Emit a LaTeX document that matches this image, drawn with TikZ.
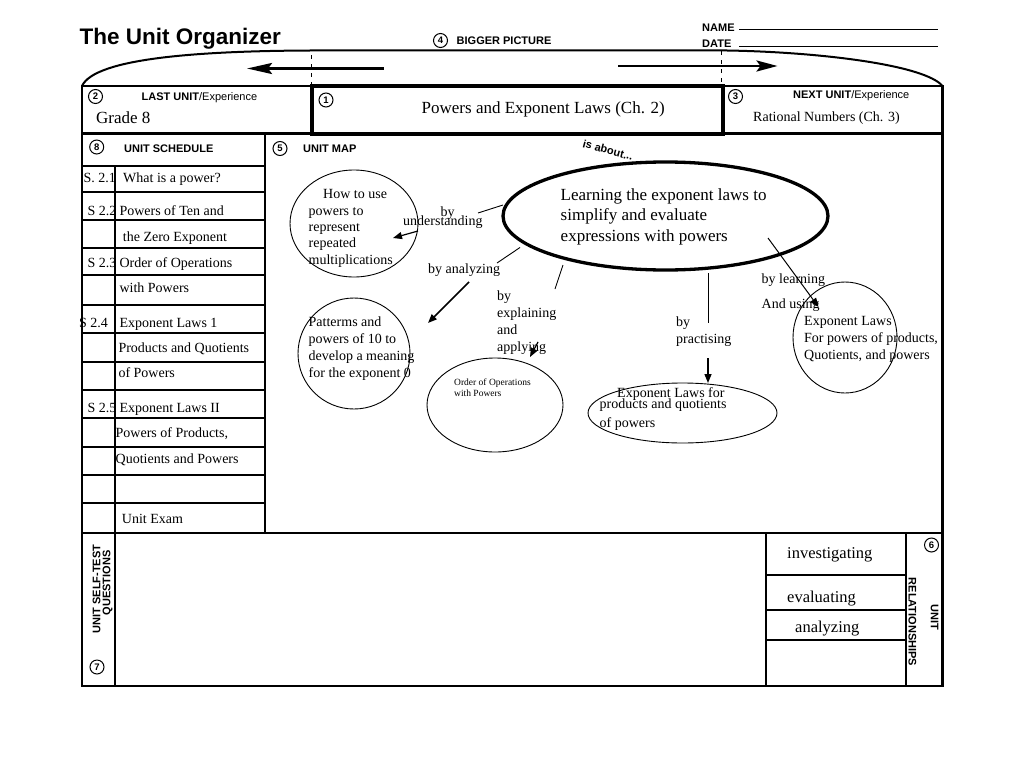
\documentclass[tikz,border=0pt]{standalone}
\usepackage{fontspec}
\setmainfont{Liberation Serif}
\setsansfont{Liberation Sans}
\usetikzlibrary{arrows.meta,shapes.geometric}
\newcommand{\uofs}[1]{\fontsize{#1}{#1}\selectfont}
\begin{document}
\begin{tikzpicture}[x=1pt,y=-1pt,
  num/.style={circle,draw,line width=1pt,inner sep=0pt,minimum size=14pt,font=\sffamily\bfseries\uofs{9.5}},
  hdr/.style={font=\sffamily\bfseries\uofs{11},inner sep=0pt,anchor=base west},
  tl/.style={font=\uofs{14},inner sep=0pt,anchor=base west},
  bubble/.style={ellipse,draw,line width=0.9pt,inner sep=0pt},
  frame/.style={line width=2.3pt},
  rowline/.style={line width=1.1pt},
  link/.style={line width=0.9pt},
  arr/.style={-{Triangle[length=9pt,width=7pt]},line width=1.2pt},
]
\useasboundingbox[fill=white] (0,0) rectangle (1024,768);

% ---------- header ----------
\node[font=\sffamily\bfseries\uofs{22.5},inner sep=0pt,anchor=base west] (title) at (79.5,45) {The Unit Organizer};
\node[num] (n4) at (440.5,40.5) {4};
\node[hdr] (bigger) at (456.5,45) {BIGGER PICTURE};
\node[hdr] (name) at (702,31.5) {NAME};
\node[hdr] (date) at (702,47.5) {DATE};
\coordinate (nameA) at (739,30);  \coordinate (nameB) at (937.5,30);
\coordinate (dateA) at (739,46.5); \coordinate (dateB) at (937.5,46.5);
\draw[line width=1pt] (nameA) -- (nameB);
\draw[line width=1pt] (dateA) -- (dateB);

% top arc
\draw[line width=2pt] (82,86) .. controls (95,58) and (200,51) .. (310,50.5) -- (727,50.5) .. controls (820,52) and (925,65) .. (942.5,86);
\draw[line width=1pt,dash pattern=on 4pt off 5pt] (311.5,55) -- (311.5,84);
\draw[line width=1pt,dash pattern=on 4pt off 5pt] (721,51) -- (721,84);
\coordinate (la1) at (383.5,68.5); \coordinate (la2) at (247,68.5);
\coordinate (ra1) at (618,66); \coordinate (ra2) at (777.5,66);
\draw[line width=2.8pt,-{Stealth[length=25pt,width=11pt,inset=4pt]}] (la1) -- (la2);
\draw[line width=2.8pt,-{Stealth[length=21pt,width=11pt,inset=4pt]}] (ra1) -- (ra2);

% ---------- frame ----------
\draw[frame] (312,86) -- (82,86) -- (82,686) -- (942.5,686) -- (942.5,86) -- (722,86);
\draw[frame] (82,133.5) -- (942.5,133.5);
\draw[frame] (265,133.5) -- (265,533);
\draw[frame] (82,533) -- (942.5,533);
\draw[line width=4pt] (311.5,85.5) rectangle (722.5,134);

% top row
\node[num] (n2) at (95.5,96.5) {2};
\node[inner sep=0pt,anchor=base west] (last) at (141.5,100) {\sffamily\uofs{11}\textbf{LAST UNIT}/Experience};
\node[font=\uofs{17},inner sep=0pt,anchor=base west] (grade) at (96,123.3) {Grade 8};
\node[num] (n1) at (326,100) {1};
\node[font=\uofs{17},inner sep=0pt,anchor=base west] (unit) at (421.5,113) {Powers and Exponent Laws (Ch. 2)};
\node[num] (n3) at (735.5,96.5) {3};
\node[inner sep=0pt,anchor=base west] (next) at (793,98) {\sffamily\uofs{11}\textbf{NEXT UNIT}/Experience};
\node[font=\uofs{14},inner sep=0pt,anchor=base west] (rational) at (753,121.7) {Rational Numbers (Ch. 3)};

% ---------- unit schedule ----------
\node[num] (n8) at (96.7,147) {8};
\node[hdr] (sched) at (124,152) {UNIT SCHEDULE};
\foreach \yy in {166,192,220,248,275,305,333,362,390,418,447,475,503}
  \draw[rowline] (82,\yy) -- (265,\yy);
\draw[line width=1.5pt] (115,166) -- (115,686);
\node[tl] (s1) at (83.5,182) {S. 2.1};
\node[tl] (t1) at (123,182) {What is a power?};
\node[tl] (s2) at (87.5,215) {S 2.2};
\node[tl] (t2) at (119.3,215) {Powers of Ten and};
\node[tl] (t2b) at (122.7,241) {the Zero Exponent};
\node[tl] (s3) at (87.5,267) {S 2.3};
\node[tl] (t3) at (119.3,267) {Order of Operations};
\node[tl] (t3b) at (119.3,292) {with Powers};
\node[tl] (s4) at (79,327) {S 2.4};
\node[tl] (t4) at (119.3,327) {Exponent Laws 1};
\node[tl] (t4b) at (118.3,352) {Products and Quotients};
\node[tl] (t4c) at (118.3,377) {of Powers};
\node[tl] (s5) at (87.5,412) {S 2.5};
\node[tl] (t5) at (119.3,412) {Exponent Laws II};
\node[tl] (t5b) at (115.5,437) {Powers of Products,};
\node[tl] (t5c) at (115.5,463) {Quotients and Powers};
\node[tl] (t6) at (121.7,523) {Unit Exam};

% ---------- unit map ----------
\node[num] (n5) at (280,148.5) {5};
\node[hdr] (umap) at (303,152.6) {UNIT MAP};
\node[font=\sffamily\bfseries\uofs{11},inner sep=0pt,rotate=-15] (about) at (608,150) {is about...};

\node[bubble,line width=3.3pt,minimum width=325pt,minimum height=108pt] (goal) at (665.5,216) {};
\node[font=\uofs{17},inner sep=0pt,anchor=base west] (g1) at (560.5,200) {Learning the exponent laws to};
\node[font=\uofs{17},inner sep=0pt,anchor=base west] (g2) at (560.5,220.5) {simplify and evaluate};
\node[font=\uofs{17},inner sep=0pt,anchor=base west] (g3) at (560.5,241) {expressions with powers};

\node[bubble,minimum width=128pt,minimum height=107pt] (howto) at (354,223.5) {};
\node[tl] (h1) at (323,198) {How to use};
\node[tl] (h2) at (308.5,215) {powers to};
\node[tl] (h3) at (308.5,231) {represent};
\node[tl] (h4) at (308.5,247) {repeated};
\node[tl] (h5) at (308.5,264) {multiplications};

\node[bubble,minimum width=112pt,minimum height=111pt] (patt) at (354,353.5) {};
\node[tl] (p1) at (308.5,326) {Patterms and};
\node[tl] (p2) at (308.5,343) {powers of 10 to};
\node[tl] (p3) at (308.5,360) {develop a meaning};
\node[tl] (p4) at (308.5,377) {for the exponent 0};

\node[bubble,minimum width=136pt,minimum height=94pt] (order) at (495,405) {};
\node[font=\uofs{9.5},inner sep=0pt,anchor=base west] (o1) at (454,385) {Order of Operations};
\node[font=\uofs{9.5},inner sep=0pt,anchor=base west] (o2) at (454,396) {with Powers};

\node[bubble,minimum width=189pt,minimum height=60pt] (prod) at (682.5,413) {};
\node[tl] (e1) at (617,397) {Exponent Laws for};
\node[tl] (e2) at (599.5,408) {products and quotients};
\node[tl] (e3) at (599.5,427.5) {of powers};

\node[bubble,minimum width=104pt,minimum height=111pt] (powl) at (845,337.5) {};
\node[tl] (r1) at (804,325) {Exponent Laws};
\node[tl] (r2) at (804,342) {For powers of products,};
\node[tl] (r3) at (804,359) {Quotients, and powers};

% connector labels
\node[tl] (by1) at (440.5,216) {by};
\node[tl] (by1b) at (403,225.5) {understanding};
\node[tl] (by2) at (428,273.5) {by analyzing};
\node[tl] (by3) at (497,300) {by};
\node[tl] (by3b) at (497,317) {explaining};
\node[tl] (by3c) at (497,334) {and};
\node[tl] (by3d) at (497,351) {applying};
\node[tl] (by4) at (676,326) {by};
\node[tl] (by4b) at (676,343) {practising};
\node[tl] (by5) at (761.5,283) {by learning};
\node[tl] (by5b) at (761.5,308) {And using};

% connectors
\coordinate (u1) at (503,205); \coordinate (u2) at (478,213);
\coordinate (u3) at (418,231); \coordinate (u4) at (393,238);
\draw[link] (u1) -- (u2);
\draw[arr] (u3) -- (u4);
\coordinate (a1) at (520,247.5); \coordinate (a2) at (497,263);
\coordinate (a3) at (469,282); \coordinate (a4) at (428,323);
\draw[link] (a1) -- (a2);
\draw[arr,line width=1.6pt] (a3) -- (a4);
\coordinate (x1) at (563,265); \coordinate (x2) at (555,289);
\coordinate (x3) at (538,342); \coordinate (x4) at (530,357);
\draw[link] (x1) -- (x2);
\draw[arr] (x3) -- (x4);
\coordinate (p1a) at (708,273); \coordinate (p1b) at (708,323);
\coordinate (p2a) at (708,358); \coordinate (p2b) at (708,383);
\draw[link] (p1a) -- (p1b);
\draw[arr,line width=1.4pt] (p2a) -- (p2b);
\coordinate (l1) at (768,238); \coordinate (l2) at (818.5,307);
\draw[arr,line width=1pt] (l1) -- (l2);

% ---------- bottom ----------
\node[font=\sffamily\bfseries\uofs{11},inner sep=0pt,rotate=90] (selft) at (96.5,589) {UNIT SELF-TEST};
\node[font=\sffamily\bfseries\uofs{11},inner sep=0pt,rotate=90] (quest) at (107.5,583) {QUESTIONS};
\node[num] (n7) at (97,667) {7};

\draw[line width=1.5pt] (766,533) -- (766,686);
\draw[line width=1.5pt] (906,533) -- (906,686);
\foreach \yy in {575,610,640}
  \draw[rowline] (766,\yy) -- (906,\yy);
\node[font=\uofs{16.5},inner sep=0pt,anchor=base west] (inv) at (787,558) {investigating};
\node[font=\uofs{16.5},inner sep=0pt,anchor=base west] (eva) at (787,602) {evaluating};
\node[font=\uofs{16.5},inner sep=0pt,anchor=base west] (ana) at (795,632) {analyzing};
\node[num] (n6) at (931.5,545) {6};
\node[font=\sffamily\bfseries\uofs{11},inner sep=0pt,rotate=-90] (rel) at (912.5,622) {RELATIONSHIPS};
\node[font=\sffamily\bfseries\uofs{11},inner sep=0pt,rotate=-90] (runit) at (934.5,617) {UNIT};
\end{tikzpicture}
\end{document}
